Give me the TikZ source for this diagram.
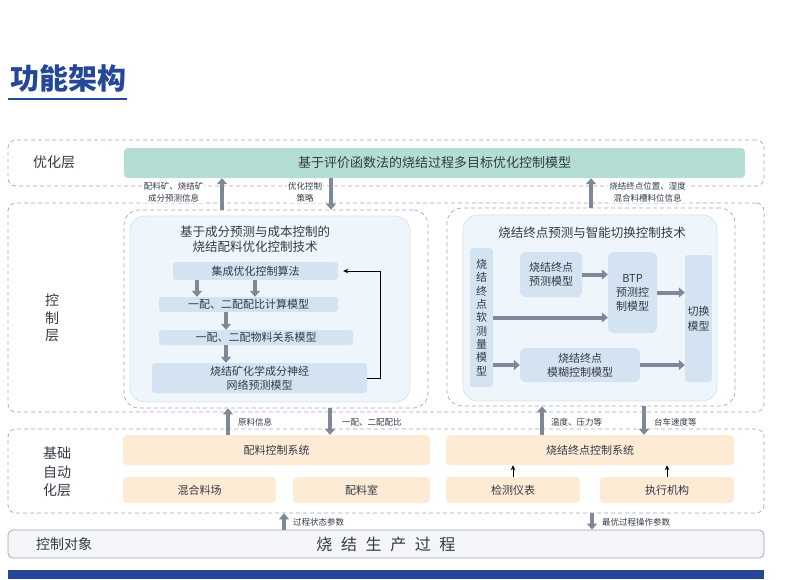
\documentclass[tikz,border=0pt]{standalone}
\usepackage{fontspec}
\setmainfont{Noto Sans CJK SC}
\newfontfamily\widecjk{Noto Sans CJK SC}[WordSpace=2.4]
\usetikzlibrary{arrows.meta}

\definecolor{titleblue}{HTML}{24479A}
\definecolor{dashgray}{HTML}{A3A8B4}
\definecolor{txtgray}{HTML}{343A46}
\definecolor{optgreen}{HTML}{B4DED3}
\definecolor{techfill}{HTML}{EEF6FB}
\definecolor{techline}{HTML}{D3E4F1}
\definecolor{modelblue}{HTML}{D3E3F1}
\definecolor{baseorange}{HTML}{FDEBD6}
\definecolor{arrowgray}{HTML}{7E8898}
\definecolor{objfill}{HTML}{F3F5F9}

\newcommand{\fsz}[2]{\fontsize{#1}{#2}\selectfont}

\tikzset{
  layerframe/.style={draw=dashgray, dash pattern=on 4pt off 3pt, line width=0.7pt,
    rounded corners=8pt, minimum width=756pt, inner sep=0pt},
  objframe/.style={draw=dashgray, fill=objfill, line width=0.8pt, rounded corners=5pt,
    minimum width=756pt, minimum height=28pt, inner sep=0pt},
  layerlabel/.style={text=txtgray, align=center, font=\fsz{14}{17.5}},
  techframe/.style={draw=dashgray, dash pattern=on 4pt off 3pt, line width=0.7pt,
    rounded corners=15pt, inner sep=0pt},
  techfillbox/.style={draw=techline, fill=techfill, line width=0.8pt,
    rounded corners=15pt, inner sep=0pt},
  techtitle/.style={text=txtgray, align=center, font=\fsz{12.5}{15}},
  modelbox/.style={fill=modelblue, rounded corners=3pt, inner sep=0pt,
    text=txtgray, align=center, font=\fsz{11}{14}},
  basebox/.style={fill=baseorange, rounded corners=4pt, inner sep=0pt,
    text=txtgray, align=center, font=\fsz{11}{14}},
  infolabel/.style={text=txtgray, align=center, inner sep=1pt, font=\fsz{8.5}{12}},
  flowarrow/.style={draw=arrowgray, line width=4pt, -{Triangle[length=6pt,width=10pt]}},
  thinarrow/.style={draw=black, line width=0.8pt, -{Stealth[length=5pt,width=4.5pt]}}
}

\begin{document}
\begin{tikzpicture}[x=1pt, y=-1pt]
\useasboundingbox (0,0) rectangle (806,579);

% title
\node[text=titleblue, font=\fsz{29}{32}\bfseries] (title) at (68,78) {功能架构};
\draw[titleblue, line width=2pt] (8,99) -- (127,99);

% layers
\node[layerframe, minimum height=46pt] (optlayer) at (386,163) {};
\node[layerframe, minimum height=209pt] (ctrllayer) at (386,307.5) {};
\node[layerframe, minimum height=84pt] (baselayer) at (386,471) {};
\node[objframe] (objlayer) at (386,544) {};
\fill[titleblue] (8,570) rectangle (764,579);

\node[layerlabel] (optname) at (54,162) {优化层};
\node[layerlabel] (ctrlname) at (52,318) {控\\制\\层};
\node[layerlabel, font=\fsz{14}{18.5}] (basename) at (57,472) {基础\\自动\\化层};
\node[layerlabel] (objname) at (64,544) {控制对象};
\node[text=txtgray, font=\widecjk\fsz{16}{18}] (process) at (386,544) {烧 结 生 产 过 程};

% optimization layer
\node[fill=optgreen, rounded corners=4pt, minimum width=621pt, minimum height=30pt,
  inner sep=0pt, text=txtgray, font=\fsz{13}{15}] (optmodel) at (434.5,163)
  {基于评价函数法的烧结过程多目标优化控制模型};

% left technique
\node[techframe, minimum width=304pt, minimum height=198pt] (lframe) at (276,309) {};
\node[techfillbox, minimum width=280pt, minimum height=186pt] (lfill) at (270,309) {};
\node[techtitle] (ltitle) at (255,239) {基于成分预测与成本控制的\\烧结配料优化控制技术};
\node[modelbox, minimum width=165pt, minimum height=18pt] (algo) at (255.5,271) {集成优化控制算法};
\node[modelbox, minimum width=179pt, minimum height=15pt] (ratio) at (248.5,304.5) {一配、二配配比计算模型};
\node[modelbox, minimum width=194pt, minimum height=15pt] (relat) at (256,337.5) {一配、二配物料关系模型};
\node[modelbox, minimum width=215pt, minimum height=30pt] (neural) at (259.5,378) {烧结矿化学成分神经\\网络预测模型};

\draw[flowarrow] (algo.south -| 197,0) -- (ratio.north -| 197,0);
\draw[flowarrow] (algo.south -| 255,0) -- (ratio.north -| 255,0);
\draw[flowarrow] (ratio.south -| 226,0) -- (relat.north -| 226,0);
\draw[flowarrow] (relat.south -| 226,0) -- (neural.north -| 226,0);
\draw[thinarrow] (neural.east) -- (380,0 |- neural.east) |- (algo.east) [shorten >=5pt];

% right technique
\node[techframe, minimum width=288pt, minimum height=198pt] (rframe) at (591,307) {};
\node[techfillbox, minimum width=254pt, minimum height=186pt] (rfill) at (590,308) {};
\node[techtitle] (rtitle) at (592,233) {烧结终点预测与智能切换控制技术};
\node[modelbox, minimum width=23pt, minimum height=139pt, font=\fsz{11}{13.3}] (soft) at (481.5,317.5)
  {烧\\结\\终\\点\\软\\测\\量\\模\\型};
\node[modelbox, rounded corners=6pt, minimum width=62pt, minimum height=45pt] (pred) at (551,274.5) {烧结终点\\预测模型};
\node[modelbox, rounded corners=6pt, minimum width=49pt, minimum height=81pt] (btp) at (632.5,292.5) {BTP\\预测控\\制模型};
\node[modelbox, minimum width=27pt, minimum height=127pt, font=\fsz{11}{15}] (switch) at (698.5,318.5) {切换\\模型};
\node[modelbox, rounded corners=5pt, minimum width=120pt, minimum height=34pt] (fuzzy) at (580,365) {烧结终点\\模糊控制模型};

\draw[flowarrow] (pred.east) -- (pred.east -| btp.west);
\draw[flowarrow] (soft.east) -- (soft.east -| btp.west);
\draw[flowarrow] (soft.east |- fuzzy.west) -- (fuzzy.west);
\draw[flowarrow] (btp.east) -- (btp.east -| switch.west);
\draw[flowarrow] (fuzzy.east) -- (fuzzy.east -| switch.west);

% optimization <-> control
\draw[flowarrow] (222,0 |- lframe.north) -- (222,0 |- optmodel.south);
\draw[flowarrow] (331,0 |- optmodel.south) -- (331,0 |- lframe.north);
\draw[flowarrow] (591,0 |- rframe.north) -- (591,0 |- optmodel.south);
\node[infolabel, fill=white] (infoa) at (173.5,192) {配料矿、烧结矿\\成分预测信息};
\node[infolabel, fill=white] (infob) at (305,192) {优化控制\\策略};
\node[infolabel, fill=white] (infoc) at (647.5,192) {烧结终点位置、湿度\\混合料槽料位信息};

% basic automation layer
\node[basebox, minimum width=307pt, minimum height=30pt] (batch) at (276.5,450) {配料控制系统};
\node[basebox, minimum width=153pt, minimum height=26pt] (mixyard) at (199.5,490) {混合料场};
\node[basebox, minimum width=137pt, minimum height=26pt] (batchroom) at (361.5,490) {配料室};
\node[basebox, minimum width=288pt, minimum height=30pt] (btpsys) at (590,450) {烧结终点控制系统};
\node[basebox, minimum width=134pt, minimum height=26pt] (meter) at (513,490) {检测仪表};
\node[basebox, minimum width=134pt, minimum height=26pt] (actuator) at (667,490) {执行机构};

\draw[thinarrow] (meter.north) -- (meter.north |- btpsys.south);
\draw[thinarrow] (actuator.north) -- (actuator.north |- btpsys.south);

% control <-> basic automation
\draw[flowarrow] (228,0 |- batch.north) -- (228,0 |- lframe.south);
\draw[flowarrow] (330,0 |- lframe.south) -- (330,0 |- batch.north);
\draw[flowarrow] (542,0 |- btpsys.north) -- (542,0 |- rframe.south);
\draw[flowarrow] (644,0 |- rframe.south) -- (644,0 |- btpsys.north);
\node[infolabel, anchor=west] (infod) at (237,422) {原料信息};
\node[infolabel, anchor=west] (infoe) at (341,422) {一配、二配配比};
\node[infolabel, anchor=west] (infof) at (550,422) {温度、压力等};
\node[infolabel, anchor=west] (infog) at (653,422) {台车速度等};

% basic automation <-> process
\draw[flowarrow] (284,0 |- objlayer.north) -- (284,0 |- baselayer.south);
\draw[flowarrow] (592,0 |- baselayer.south) -- (592,0 |- objlayer.north);
\node[infolabel, anchor=west] (infoh) at (292,522) {过程状态参数};
\node[infolabel, anchor=west] (infoi) at (601,522) {最优过程操作参数};
\end{tikzpicture}
\end{document}
